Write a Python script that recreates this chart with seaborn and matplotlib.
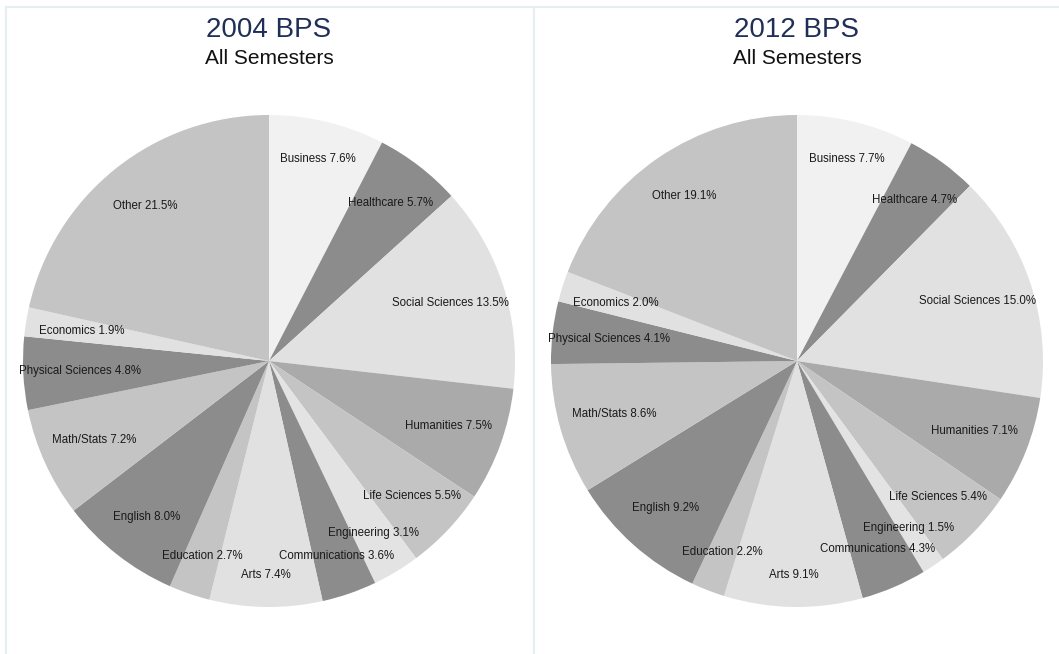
import numpy as np
import matplotlib.pyplot as plt
from matplotlib.lines import Line2D
import seaborn as sns

# Field of study shares, clockwise from 12 o'clock
fields = ['Business', 'Healthcare', 'Social Sciences', 'Humanities', 'Life Sciences',
          'Engineering', 'Communications', 'Arts', 'Education', 'English',
          'Math/Stats', 'Physical Sciences', 'Economics', 'Other']
share_2004 = [7.6, 5.7, 13.5, 7.5, 5.5, 3.1, 3.6, 7.4, 2.7, 8.0, 7.2, 4.8, 1.9, 21.5]
share_2012 = [7.7, 4.7, 15.0, 7.1, 5.4, 1.5, 4.3, 9.1, 2.2, 9.2, 8.6, 4.1, 2.0, 19.1]
titles = ['2004 BPS', '2012 BPS']
subtitle = 'All Semesters'

slice_colors = ['#f1f1f1', '#8c8c8c', '#e1e1e1', '#aaaaaa', '#c4c4c4', '#e3e3e3', '#8c8c8c',
                '#e1e1e1', '#c4c4c4', '#8c8c8c', '#c4c4c4', '#8c8c8c', '#e1e1e1', '#c4c4c4']

sns.set_theme(style='white')
plt.rcParams['font.family'] = ['Liberation Sans', 'DejaVu Sans']

W, H = 1059, 654
fig = plt.figure(figsize=(W / 100, H / 100), dpi=100)

# panel frames
border = '#e6eef1'
fig.add_artist(Line2D([6 / W, 1], [1 - 7 / H] * 2, color=border, lw=1.5))
for xp in (6, 534):
    fig.add_artist(Line2D([xp / W] * 2, [0, 1 - 7 / H], color=border, lw=1.5))


def draw_pie(ax, values):
    wedges, _ = ax.pie(values, colors=slice_colors, startangle=90, counterclock=False,
                       radius=1, wedgeprops=dict(linewidth=0))
    for w, name, v in zip(wedges, fields, values):
        mid = np.deg2rad((w.theta1 + w.theta2) / 2)
        # labels sit a bit further in near the sides
        d = 0.87 - 0.10 * abs(np.cos(mid))
        ax.text(d * np.cos(mid), d * np.sin(mid), f'{name} {v:.1f}%',
                ha='center', va='center', fontsize=8.3, color='#1a1a1a')
    ax.set_xlim(-1, 1)
    ax.set_ylim(-1, 1)
    ax.set_aspect('equal')
    ax.axis('off')


centers = [269, 797]
r = 246
for cx, vals, title in zip(centers, [share_2004, share_2012], titles):
    ax = fig.add_axes([(cx - r) / W, (H - 361 - r) / H, 2 * r / W, 2 * r / H])
    draw_pie(ax, vals)
    fig.text(cx / W, 1 - 30 / H, title, ha='center', va='center', fontsize=20, color='#1f2f57')
    fig.text(cx / W, 1 - 59 / H, subtitle, ha='center', va='center', fontsize=15, color='#111111')

fig.savefig('out.png', dpi=100)
